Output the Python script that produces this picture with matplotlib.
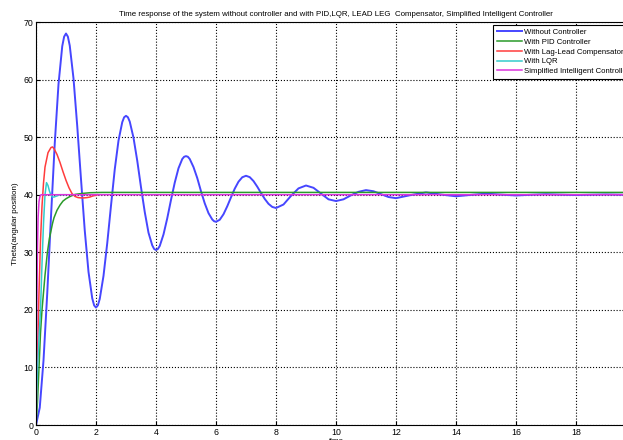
import matplotlib.pyplot as plt

plt.rcParams['font.family'] = ['Liberation Sans', 'DejaVu Sans']

# Without controller (blue)
t_blue = [0, 0.125, 0.25, 0.375, 0.5, 0.625, 0.75, 0.875, 0.9375, 1.0, 1.0625, 1.125, 1.25, 1.375, 1.5,
          1.625, 1.75, 1.875, 1.9375, 2.0, 2.0625, 2.125, 2.25, 2.375, 2.5, 2.625, 2.75, 2.875, 2.9375,
          3.0, 3.0625, 3.125, 3.25, 3.375, 3.5, 3.625, 3.75, 3.875, 3.9375, 4.0, 4.0625, 4.125, 4.25,
          4.375, 4.5, 4.625, 4.75, 4.875, 4.9375, 5.0, 5.0625, 5.125, 5.25, 5.375, 5.5, 5.625, 5.75,
          5.875, 5.9375, 6.0, 6.125, 6.25, 6.375, 6.5, 6.625, 6.75, 6.875, 7.0, 7.125, 7.25, 7.375,
          7.5, 7.625, 7.75, 7.875, 8.0, 8.25, 8.5, 8.75, 9.0, 9.25, 9.5, 9.75,
          10.0, 10.25, 10.5, 10.75, 11.0, 11.25, 11.5, 11.75, 12.0, 12.5, 13.0, 13.5, 14.0, 14.5, 15.0,
          15.5, 16.0, 16.5, 17.0, 17.5, 18.0, 18.5, 19.0, 19.5, 20.0]
y_blue = [0.0, 3.0, 11.2, 22.9, 36.2, 48.9, 59.2, 65.8, 67.45, 68.0, 67.46, 65.9, 60.2, 51.9, 42.7,
          33.8, 26.6, 22.0, 20.78, 20.4, 20.78, 21.9, 25.9, 31.6, 38.1, 44.4, 49.4, 52.6, 53.45,
          53.7, 53.46, 52.7, 49.9, 45.9, 41.3, 37.0, 33.4, 31.2, 30.58, 30.4, 30.58, 31.1, 33.1,
          35.9, 39.1, 42.1, 44.6, 46.2, 46.59, 46.7, 46.59, 46.2, 44.8, 42.9, 40.6, 38.5, 36.8,
          35.7, 35.39, 35.3, 35.65, 36.61, 37.99, 39.55, 41.05, 42.26, 43.03, 43.29, 43.05, 42.37, 41.4,
          40.31, 39.27, 38.42, 37.88, 37.69, 38.3, 39.8, 41.1, 41.6, 41.2, 40.2, 39.2,
          38.9, 39.2, 39.9, 40.5, 40.8, 40.6, 40.1, 39.6, 39.4, 39.95, 40.4, 40.03, 39.73, 39.97, 40.19,
          40.02, 39.87, 39.99, 40.09, 40.01, 39.94, 40.0, 40.05, 40.0, 39.97]

# With PID controller (green)
t_pid = [0, 0.05, 0.1, 0.15, 0.2, 0.3, 0.38, 0.45, 0.55, 0.6, 0.7, 0.8, 0.9, 1.0, 1.1, 1.2, 1.3, 1.5, 1.8, 2.2, 20]
y_pid = [0, 4, 10, 16, 20, 26, 30, 32.5, 35, 36, 37.3, 38.2, 38.9, 39.3, 39.6, 39.85, 40.05, 40.2, 40.35, 40.4, 40.4]

# With lag-lead compensator (red)
t_lag = [0, 0.05, 0.1, 0.15, 0.2, 0.25, 0.3, 0.4, 0.5, 0.55, 0.6, 0.7, 0.8, 0.9, 1.0, 1.1, 1.2, 1.3,
         1.4, 1.5, 1.6, 1.7, 1.8, 1.9, 2.0, 2.05]
y_lag = [0, 12, 23, 32, 38, 42, 44.8, 47.3, 48.2, 48.3, 48.0, 47.0, 45.6, 44.0, 42.5, 41.2, 40.2, 39.7,
         39.5, 39.45, 39.45, 39.5, 39.6, 39.8, 39.9, 40.0]

# With LQR (cyan)
t_lqr = [0, 0.05, 0.1, 0.15, 0.2, 0.25, 0.3, 0.35, 0.4, 0.45, 0.5, 0.55, 0.6, 0.7, 0.8, 1.0]
y_lqr = [0, 10, 15, 20, 28, 35, 40, 42.1, 41.6, 40.6, 39.9, 39.6, 39.6, 39.8, 40.0, 40.0]

# Simplified intelligent controller (magenta)
t_sic = [0, 0.01, 0.03, 0.05, 0.07, 0.1, 0.13, 0.17, 20]
y_sic = [0, 7, 22, 31, 36, 38.8, 39.7, 40, 40]

fig = plt.figure(figsize=(6.23, 4.4), dpi=100)
ax = fig.add_axes([36 / 623, 15 / 440, 600 / 623, 403 / 440])

ax.plot(t_blue, y_blue, color='#4646ff', lw=1.4, label='Without Controller')
ax.plot(t_pid, y_pid, color='#2a9a2a', lw=1.1, label='With PID Controller')
ax.plot(t_lag, y_lag, color='#ff3c3c', lw=1.1, label='With Lag-Lead Compensator')
ax.plot(t_lqr, y_lqr, color='#33cccc', lw=1.1, label='With LQR')
ax.plot(t_sic, y_sic, color='#dd33dd', lw=1.1, label='Simplified Intelligent Controller')

ax.set_xlim(0, 20)
ax.set_ylim(0, 70)
ax.set_xticks(range(0, 21, 2))
ax.set_yticks(range(0, 71, 10))
ax.grid(True, color='black', linestyle=':', linewidth=0.8)
ax.tick_params(direction='in', labelsize=6.3, length=3, pad=2)
for s in ax.spines.values():
    s.set_linewidth(0.8)

ax.set_title('Time response of the system without controller and with PID,LQR, LEAD LEG  Compensator, '
             'Simplified Intelligent Controller', fontsize=5.65, pad=4)
ax.set_xlabel('time', fontsize=5.8, labelpad=1)
ax.set_ylabel('Theta(angular position)', fontsize=5.8, labelpad=3)

# legend box starts near x=493, y=25 in the reference and runs past the right edge
leg = ax.legend(loc='upper left', bbox_to_anchor=(493 / 623, 1 - 25 / 440), bbox_transform=fig.transFigure,
                fontsize=5.6, fancybox=False, edgecolor='black', framealpha=1,
                borderaxespad=0, handlelength=3.3, handletextpad=0.3, labelspacing=0.3, borderpad=0.45)
leg.get_frame().set_linewidth(0.8)

fig.savefig('out.png', dpi=100)
